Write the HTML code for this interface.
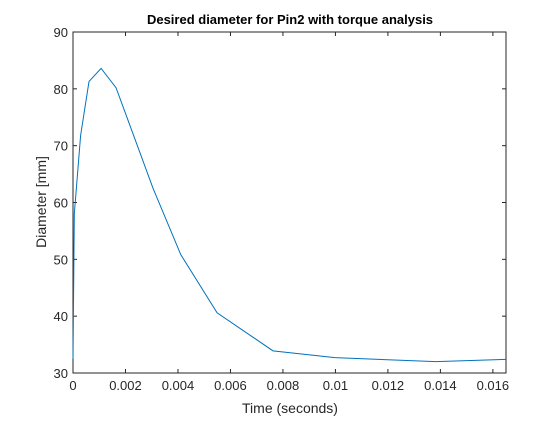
<!DOCTYPE html>
<html><head><meta charset="utf-8"><style>
body{margin:0;background:#fff;}
svg text{font-family:"Liberation Sans",Arial,sans-serif;}
</style></head><body>
<svg id="chart" width="560" height="420">
<rect width="560" height="420" fill="#fff"/>
<rect x="73" y="32" width="433" height="341" fill="#fff" stroke="none"/>
<g id="axes"></g>
<polyline id="line" fill="none" stroke="#0072BD" stroke-width="1"/>
<text x="290" y="24" text-anchor="middle" font-size="13" font-weight="bold" fill="#000">Desired diameter for Pin2 with torque analysis</text>
<text x="290" y="413" text-anchor="middle" font-size="14" fill="#262626">Time (seconds)</text>
<text transform="translate(46,202) rotate(-90)" text-anchor="middle" font-size="14" fill="#262626">Diameter [mm]</text>
</svg>
<script>
const times=[0,0.00005,0.00029,0.00061,0.00107,0.00164,0.00305,0.00411,0.00549,0.00762,0.00998,0.01383,0.0165];
const diameters=[32.5,58,71.8,81.3,83.6,80.2,62.5,50.8,40.6,33.9,32.7,32.0,32.4];
const xTicks=[0,0.002,0.004,0.006,0.008,0.01,0.012,0.014,0.016];
const xTickLabels=["0","0.002","0.004","0.006","0.008","0.01","0.012","0.014","0.016"];
const yTicks=[30,40,50,60,70,80,90];
const L=73,R=506,T=32,B=373,XMAX=0.0165,YMIN=30,YMAX=90;
function sx(v){return L+v/XMAX*(R-L);}
function sy(v){return B-(v-YMIN)/(YMAX-YMIN)*(B-T);}
const NS="http://www.w3.org/2000/svg";
const ax=document.getElementById('axes');
function mk(t,a){const e=document.createElementNS(NS,t);for(const k in a)e.setAttribute(k,a[k]);return e;}
const box=mk('rect',{x:L,y:T,width:R-L,height:B-T,fill:'none',stroke:'#262626','stroke-width':1});


ax.appendChild(box);
xTicks.forEach((v,i)=>{
  const x=sx(v);
  const t1=mk('line',{x1:x,x2:x,y1:B,y2:B-4,stroke:'#262626'});
  
  
  ax.appendChild(t1);
  const t2=mk('line',{x1:x,x2:x,y1:T,y2:T+4,stroke:'#262626'});
  
  
  ax.appendChild(t2);
  const tx=mk('text',{x:x,y:B+17,'text-anchor':'middle','font-size':13,fill:'#262626'});
  tx.textContent=xTickLabels[i];
  
  
  ax.appendChild(tx);
});
yTicks.forEach(v=>{
  const y=sy(v);
  const t1=mk('line',{x1:L,x2:L+4,y1:y,y2:y,stroke:'#262626'});
  
  
  ax.appendChild(t1);
  const t2=mk('line',{x1:R,x2:R-4,y1:y,y2:y,stroke:'#262626'});
  
  
  ax.appendChild(t2);
  const tx=mk('text',{x:L-5,y:y+5,'text-anchor':'end','font-size':13,fill:'#262626'});
  tx.textContent=String(v);
  
  
  ax.appendChild(tx);
});
document.getElementById('line').setAttribute('points',times.map((t,i)=>sx(t)+','+sy(diameters[i])).join(' '));
</script>
</body></html>
